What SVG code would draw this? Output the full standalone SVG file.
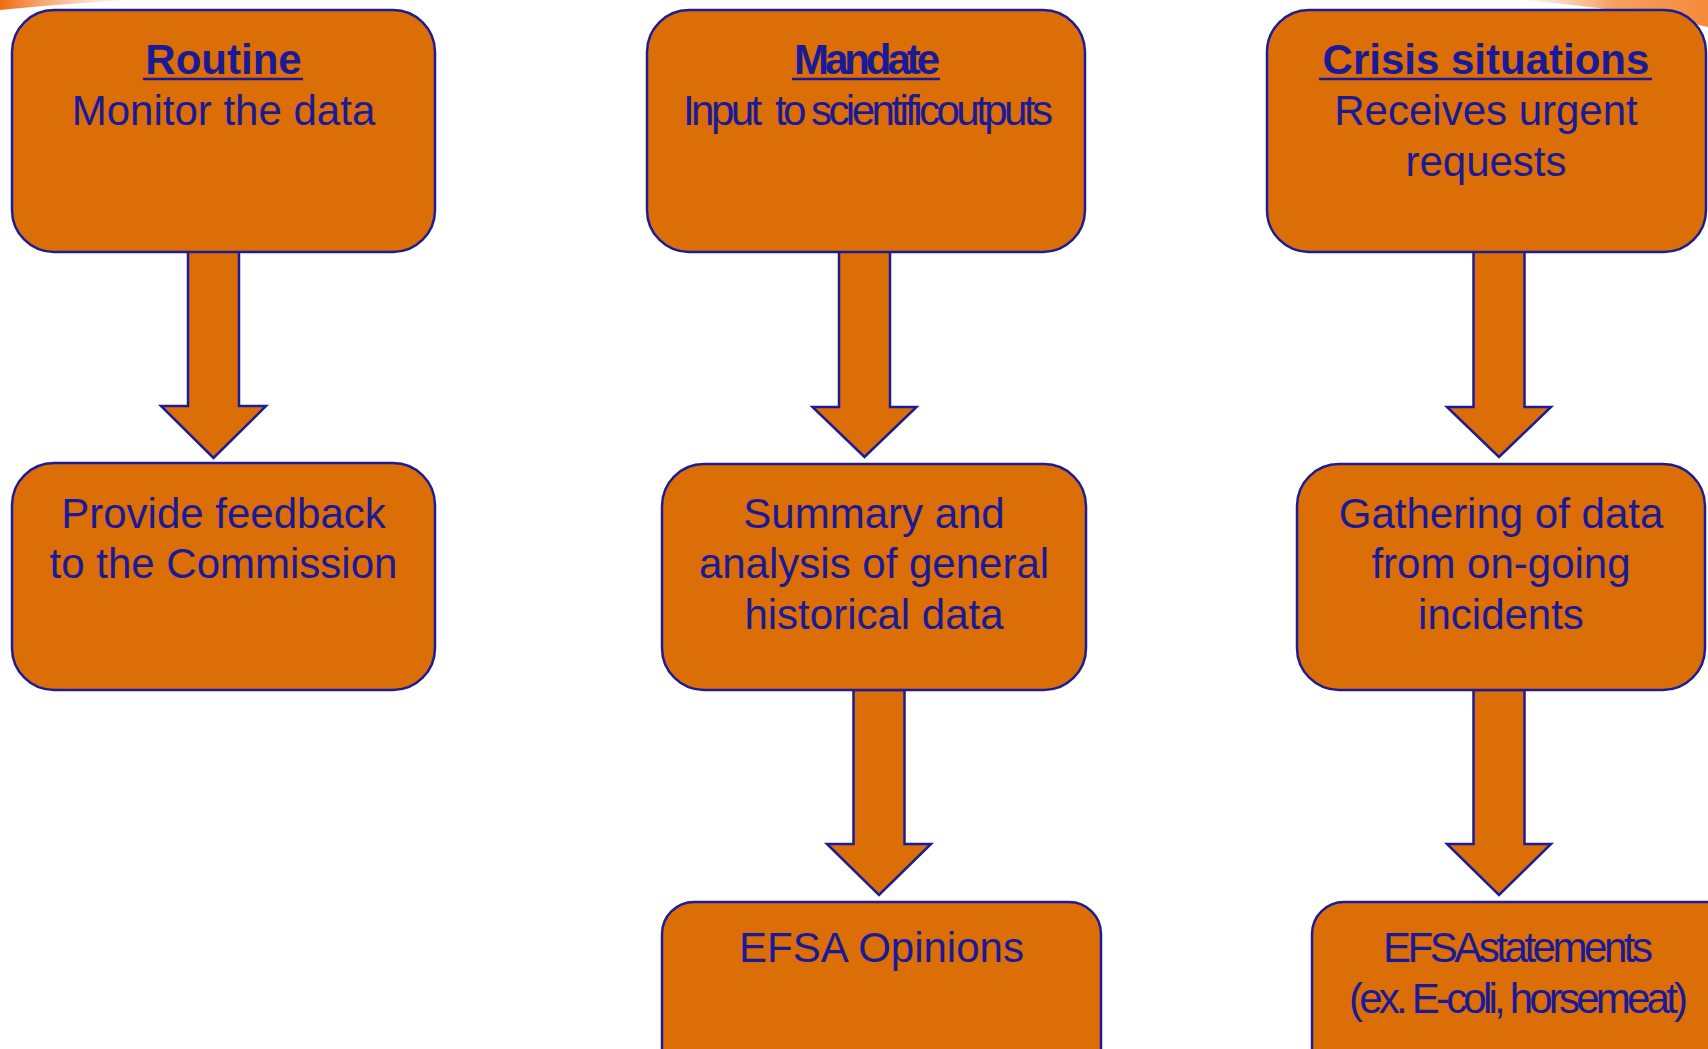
<svg xmlns="http://www.w3.org/2000/svg" width="1708" height="1049" viewBox="0 0 1708 1049">
  <style>
    .box { fill: #DB6E07; stroke: #1C1C96; stroke-width: 2.5; }
    .arrow { fill: #DB6E07; stroke: #1C1C96; stroke-width: 2.5; stroke-linejoin: miter; }
    .t { font-family: "Liberation Sans", Arial, sans-serif; font-size: 42px; fill: #1A1A96; text-anchor: middle; }
    .b { font-weight: bold; }
    .ul { stroke: #1A1A96; stroke-width: 2.5; }
  </style>
  <defs>
    <linearGradient id="swl" x1="0" y1="0" x2="1" y2="0">
      <stop offset="0" stop-color="#F26A10"/>
      <stop offset="1" stop-color="#F5A060" stop-opacity="0"/>
    </linearGradient>
    <linearGradient id="swr" x1="0" y1="0" x2="1" y2="0">
      <stop offset="0" stop-color="#F7A060" stop-opacity="0"/>
      <stop offset="0.5" stop-color="#F7A060"/>
      <stop offset="1" stop-color="#F58A3A"/>
    </linearGradient>
  </defs>
  <rect width="1708" height="1049" fill="#FFFFFF"/>
  <g id="background">
    <path d="M0,0 L130,0 Q60,4 0,10 Z" fill="url(#swl)"/>
    <path d="M1520,0 L1708,0 L1708,27 Q1620,8 1520,0 Z" fill="url(#swr)"/>
  </g>
  <g id="connectors">
    <path class="arrow" d="M188,251 L239,251 L239,406 L266,406 L213.5,458 L161,406 L188,406 Z"/>
    <path class="arrow" d="M839,251 L890,251 L890,407 L916.5,407 L864.5,457 L812.5,407 L839,407 Z"/>
    <path class="arrow" d="M1473.5,251 L1524.5,251 L1524.5,407 L1551,407 L1499,457 L1447,407 L1473.5,407 Z"/>
    <path class="arrow" d="M853.5,690 L904.5,690 L904.5,844 L931,844 L879,895 L827,844 L853.5,844 Z"/>
    <path class="arrow" d="M1473.5,690 L1524.5,690 L1524.5,844 L1551,844 L1499,895 L1447,844 L1473.5,844 Z"/>
  </g>
  <g id="routine">
    <rect class="box" x="12" y="10" width="423" height="242" rx="42" ry="42"/>
    <text class="t b" x="223.5" y="74">Routine</text>
    <line class="ul" x1="143" y1="79" x2="303" y2="79"/>
    <text class="t" x="223.5" y="125">Monitor the data</text>
  </g>
  <g id="mandate">
    <rect class="box" x="647" y="10" width="438" height="242" rx="42" ry="42"/>
    <text class="t b" x="867" y="74" textLength="146" lengthAdjust="spacing">Mandate</text>
    <line class="ul" x1="792" y1="79" x2="940" y2="79"/>
    <text class="t" x="868" y="125" textLength="370" lengthAdjust="spacing" xml:space="preserve">Input  to scientificoutputs</text>
  </g>
  <g id="crisis">
    <rect class="box" x="1267" y="10" width="439" height="242" rx="42" ry="42"/>
    <text class="t b" x="1486" y="74">Crisis situations</text>
    <line class="ul" x1="1319" y1="79" x2="1652" y2="79"/>
    <text class="t" x="1486" y="125">Receives urgent</text>
    <text class="t" x="1486" y="176">requests</text>
  </g>
  <g id="feedback">
    <rect class="box" x="12" y="463" width="423" height="227" rx="42" ry="42"/>
    <text class="t" x="223.5" y="528">Provide feedback</text>
    <text class="t" x="223.5" y="578">to the Commission</text>
  </g>
  <g id="summary">
    <rect class="box" x="662" y="464" width="424" height="226" rx="42" ry="42"/>
    <text class="t" x="874" y="528">Summary and</text>
    <text class="t" x="874" y="578">analysis of general</text>
    <text class="t" x="874" y="629">historical data</text>
  </g>
  <g id="gathering">
    <rect class="box" x="1297" y="464" width="408" height="226" rx="42" ry="42"/>
    <text class="t" x="1501" y="528">Gathering of data</text>
    <text class="t" x="1501" y="578">from on-going</text>
    <text class="t" x="1501" y="629">incidents</text>
  </g>
  <g id="opinions">
    <rect class="box" x="662" y="902" width="439" height="200" rx="32" ry="32"/>
    <text class="t" x="881.5" y="962">EFSA Opinions</text>
  </g>
  <g id="statements">
    <rect class="box" x="1312" y="902" width="430" height="200" rx="32" ry="32"/>
    <text class="t" x="1518" y="962" textLength="270" lengthAdjust="spacing">EFSAstatements</text>
    <text class="t" x="1518.5" y="1013" textLength="339" lengthAdjust="spacing">(ex. E-coli, horsemeat)</text>
  </g>
</svg>
